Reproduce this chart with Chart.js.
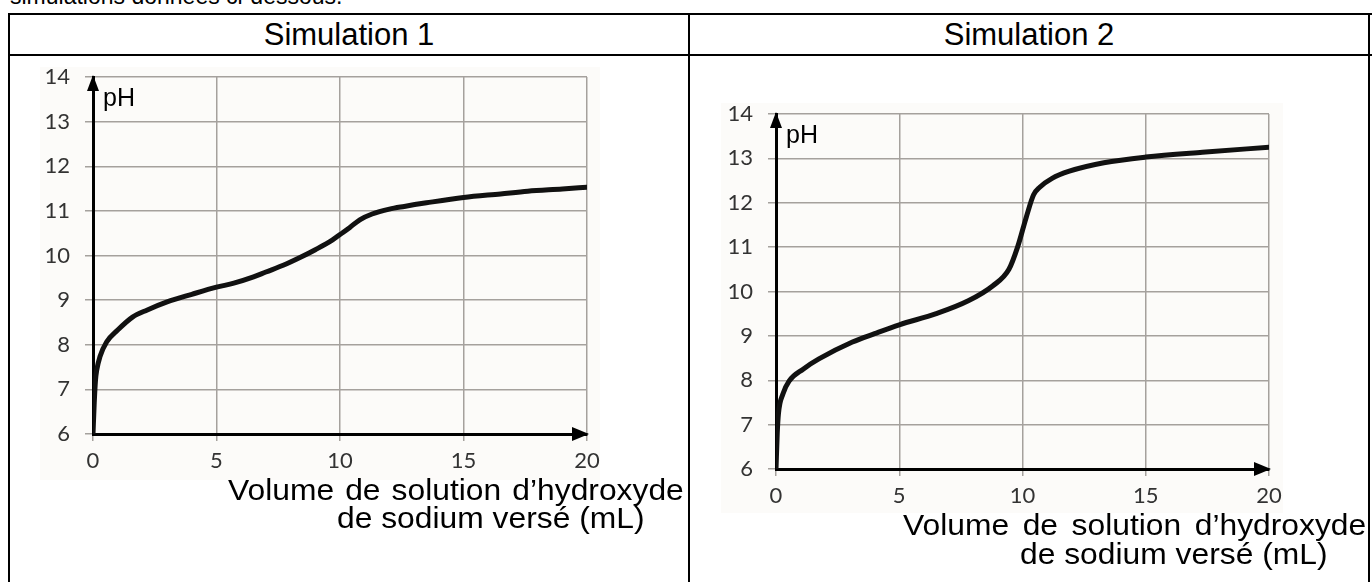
<!DOCTYPE html>
<html>
<head>
<meta charset="utf-8">
<script src="https://cdn.jsdelivr.net/npm/chart.js@4"></script>
<style>
  body { margin: 0; background: #fff; width: 1372px; height: 582px; overflow: hidden; position: relative; font-family: "Liberation Sans", Arial, sans-serif; }
  .line { position: absolute; background: #000; }
  .head { position: absolute; top: 15px; height: 40px; line-height: 40px; text-align: center; font-size: 31px; color: #000; }
  .title { position: absolute; font-size: 30px; line-height: 30px; color: #000; white-space: nowrap; transform-origin: left top; transform: scaleX(1.06); }
  .plotbg { position: absolute; background: #fcfbf9; }
  canvas { position: absolute; top: 0; }
</style>
</head>
<body>
<div class="title" style="left:10px; top:-15px; font-size:23px; line-height:23px; transform:none;">simulations données ci-dessous.</div>

<!-- table frame -->
<div class="line" style="left:8px; top:13px; width:1364px; height:2px;"></div>
<div class="line" style="left:8px; top:54px; width:1364px; height:2px;"></div>
<div class="line" style="left:8px; top:13px; width:2px; height:580px;"></div>
<div class="line" style="left:688px; top:13px; width:2px; height:580px;"></div>
<div class="line" style="left:1368px; top:13px; width:2px; height:580px;"></div>

<div class="head" style="left:10px; width:678px;">Simulation 1</div>
<div class="head" style="left:690px; width:678px;">Simulation 2</div>

<div class="plotbg" style="left:40px; top:67px; width:560px; height:413px;"></div>
<div class="plotbg" style="left:721px; top:103px; width:562px; height:410px;"></div>

<canvas id="sim1" width="686" height="582" style="left:0px;"></canvas>
<canvas id="sim2" width="686" height="582" style="left:686px;"></canvas>

<div class="title" style="left:228px; top:475px; width:430px; text-align:justify; text-align-last:justify;">Volume de solution d’hydroxyde</div>
<div class="title" style="left:337px; top:503px;">de sodium versé (mL)</div>
<div class="title" style="left:903px; top:510px; width:437px; text-align:justify; text-align-last:justify;">Volume de solution d’hydroxyde</div>
<div class="title" style="left:1020px; top:539px;">de sodium versé (mL)</div>

<script>
// volume de NaOH versé (mL) et pH
const vol1 = [0, 0.05, 0.1, 0.15, 0.28, 0.55, 1.0, 1.6, 2.2, 3.0, 4.0, 5.0, 5.7, 6.5, 7.0, 7.7, 8.4, 9.0, 9.7, 10.0, 10.4, 10.8, 11.3, 12.0, 12.6, 13.5, 15, 16.5, 17.6, 19, 20];
const ph1  = [6.0, 6.7, 7.2, 7.43, 7.73, 8.06, 8.33, 8.62, 8.78, 8.96, 9.13, 9.29, 9.38, 9.52, 9.63, 9.78, 9.96, 10.13, 10.35, 10.47, 10.63, 10.8, 10.93, 11.04, 11.1, 11.18, 11.3, 11.38, 11.44, 11.49, 11.53];

const vol2 = [0, 0.05, 0.1, 0.28, 0.53, 1.1, 1.74, 3.1, 4.0, 5.0, 6.5, 7.8, 8.8, 9.45, 9.8, 10.15, 10.45, 10.7, 11.2, 11.9, 13.3, 15, 17.3, 20];
const ph2  = [6.0, 6.8, 7.25, 7.69, 7.98, 8.25, 8.48, 8.86, 9.05, 9.25, 9.5, 9.79, 10.13, 10.5, 11.0, 11.67, 12.18, 12.35, 12.55, 12.71, 12.9, 13.03, 13.14, 13.25];

const xTicks = [0, 5, 10, 15, 20];
const yTicks = [6, 7, 8, 9, 10, 11, 12, 13, 14];

const GRID = '#a5a19d';

// arrows at the ends of the axes + "pH" label
const axisArrows = {
    id: 'axisArrows',
    afterDraw(chart) {
        const ctx = chart.ctx;
        const a = chart.chartArea;
        ctx.save();
        ctx.fillStyle = '#000';
        ctx.beginPath();
        ctx.moveTo(a.left, a.top - 2);
        ctx.lineTo(a.left - 6, a.top + 14);
        ctx.lineTo(a.left + 6, a.top + 14);
        ctx.closePath();
        ctx.fill();
        ctx.beginPath();
        ctx.moveTo(a.right + 2, a.bottom);
        ctx.lineTo(a.right - 15, a.bottom - 7);
        ctx.lineTo(a.right - 15, a.bottom + 7);
        ctx.closePath();
        ctx.fill();
        ctx.font = '25px "Liberation Sans", Arial, sans-serif';
        ctx.textBaseline = 'alphabetic';
        ctx.fillText('pH', a.left + 10, a.top + 29);
        ctx.restore();
    }
};

function makeChart(id, vols, phs, pad) {
    const pts = vols.map((v, i) => ({ x: v, y: phs[i] }));
    return new Chart(document.getElementById(id), {
        type: 'scatter',
        data: {
            datasets: [{
                data: pts,
                showLine: true,
                borderColor: '#111',
                borderWidth: 5,
                borderCapStyle: 'round',
                pointRadius: 0,
                cubicInterpolationMode: 'monotone'
            }]
        },
        options: {
            responsive: false,
            animation: false,
            events: [],
            layout: { padding: pad },
            plugins: { legend: { display: false }, tooltip: { enabled: false } },
            scales: {
                x: {
                    type: 'linear', min: 0, max: 20,
                    afterBuildTicks: s => { s.ticks = xTicks.map(v => ({ value: v })); },
                    afterFit: s => { s.height = 50; },
                    grid: { color: GRID, lineWidth: 1.5, tickLength: 7, tickColor: GRID },
                    border: { color: '#000', width: 3 },
                    ticks: { color: '#333', font: { family: 'Lato', size: 22 }, padding: 7, maxRotation: 0 }
                },
                y: {
                    type: 'linear', min: 6, max: 14,
                    afterBuildTicks: s => { s.ticks = yTicks.map(v => ({ value: v })); },
                    afterFit: s => { s.width = 60; },
                    grid: { color: GRID, lineWidth: 1.5, tickLength: 8, tickColor: GRID },
                    border: { color: '#000', width: 3 },
                    ticks: { color: '#333', font: { family: 'Lato', size: 22 }, padding: 15 }
                }
            }
        },
        plugins: [axisArrows]
    });
}

makeChart('sim1', vol1, ph1, { left: 33, top: 77, right: 99, bottom: 98 });
makeChart('sim2', vol2, ph2, { left: 30, top: 114, right: 103, bottom: 63 });
</script>
</body>
</html>
